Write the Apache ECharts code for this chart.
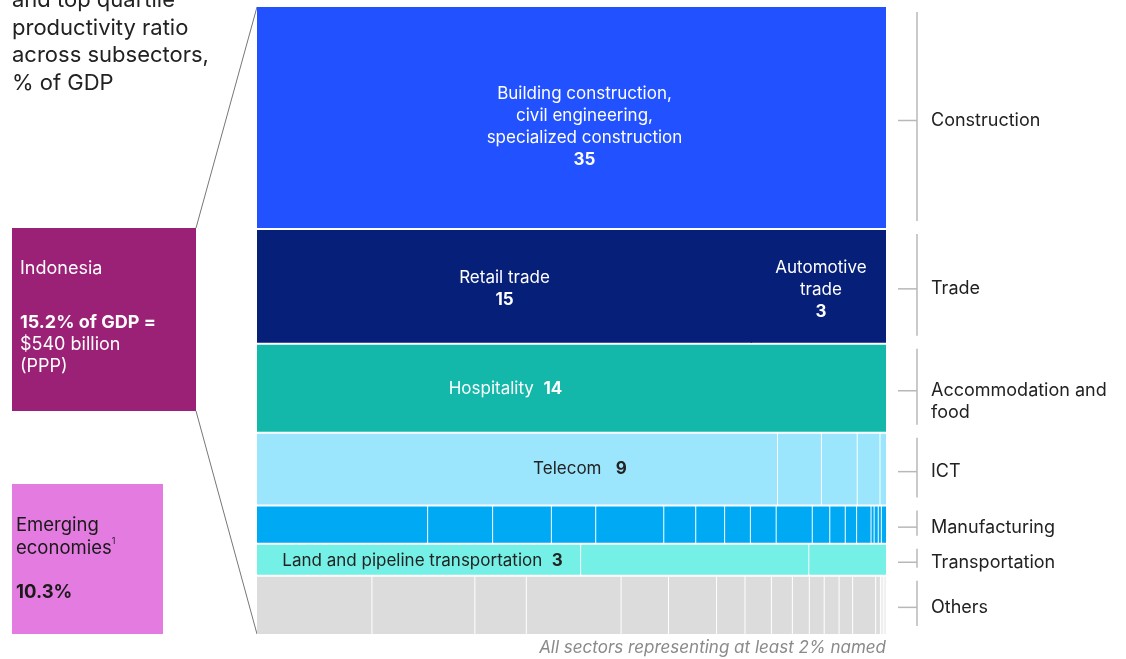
<!DOCTYPE html>
<html><head><meta charset="utf-8">
<script src="https://cdn.jsdelivr.net/npm/echarts@6/dist/echarts.min.js"></script>
<style>html,body{margin:0;padding:0;background:#fff}#c{width:1126px;height:659px}</style>
</head><body><div id="c"></div>
<script>
// ---- DATA (share of GDP, %, per subsector cell, left to right) ----
const sectors = ['Construction', 'Trade', 'Accommodation and\nfood', 'ICT', 'Manufacturing', 'Transportation', 'Others'];
const construction = [35.4];
const trade = [14.4, 3.9];
const accommodation = [14.2];
const ict = [9.59, 0.81, 0.66, 0.42, 0.12];
const manufacturing = [1.65, 0.63, 0.57, 0.43, 0.66, 0.31, 0.28, 0.25, 0.25, 0.35, 0.17, 0.15, 0.11, 0.14, 0.03, 0.04, 0.03, 0.05];
const transportation = [2.62, 1.85, 0.63];
const others = [1.69, 1.52, 0.76, 1.40, 0.70, 0.71, 0.42, 0.39, 0.31, 0.25, 0.22, 0.22, 0.20, 0.34, 0.07, 0.05, 0.04];
const sectorCells = [construction, trade, accommodation, ict, manufacturing, transportation, others];
// named subsectors (sector index, cell index, name, shown value)
const namedSectorIdx = [0, 1, 1, 2, 3, 5];
const namedCellIdx = [0, 0, 1, 0, 0, 0];
const namedNames = ['Building construction,\ncivil engineering,\nspecialized construction', 'Retail trade', 'Automotive\ntrade', 'Hospitality', 'Telecom', 'Land and pipeline transportation'];
const namedValues = [35, 15, 3, 14, 9, 3];
const indonesiaLines = ['Indonesia', '15.2% of GDP =', '$540 billion', '(PPP)'];
const emergingLines = ['Emerging', 'economies', '10.3%'];
const titleLines = ['and top quartile', 'productivity ratio', 'across subsectors,', '% of GDP'];
const footnote = 'All sectors representing at least 2% named';

// ---- STYLE ----
const FONT = 'Inter, "Liberation Sans", sans-serif';
const sectorColors = ['#2251FF', '#061F79', '#14B8AB', '#9BE6FD', '#00A9F4', '#74F0E6', '#DCDCDC'];
const sectorDividers = [true, false, true, true, true, true, true];
const namedStyle = [
  {color: '#fff', inline: false, dx: 13, dy: 9},
  {color: '#fff', inline: false, dx: 0, dy: 3},
  {color: '#fff', inline: false, dx: 2, dy: 4},
  {color: '#fff', inline: true, gap: '  ', dx: -66, dy: 1},
  {color: '#222', inline: true, gap: '   ', dx: 63, dy: 0},
  {color: '#222', inline: true, gap: '  ', dx: 4, dy: 1}
];

// build cells
const total = sectorCells.reduce((a, r) => a + r.reduce((p, q) => p + q, 0), 0);
const cellData = [];
const rowData = [];
let yCum = 0;
sectorCells.forEach((cells, s) => {
  const rowSum = cells.reduce((p, q) => p + q, 0);
  let xCum = 0;
  cells.forEach((v, i) => {
    cellData.push([xCum / rowSum, (xCum + v) / rowSum, yCum, yCum + rowSum, s, i]);
    xCum += v;
  });
  rowData.push([yCum, yCum + rowSum, s]);
  yCum += rowSum;
});
const nSect = sectorCells.length;

function cellColor(s, i) {
  if (s === 6 && i >= sectorCells[6].length - 2) return '#EFEFEF';
  return sectorColors[s];
}

function renderCell(params, api) {
  const x0 = api.value(0), x1 = api.value(1), y0 = api.value(2), y1 = api.value(3);
  const s = api.value(4), i = api.value(5);
  const p0 = api.coord([x0, y0]), p1 = api.coord([x1, y1]);
  let left = p0[0];
  if (x0 > 0) left += sectorDividers[s] ? 1 : -1;
  const top = p0[1] + (s > 0 ? 1 : 0);
  const bottom = p1[1] - (s < nSect - 1 ? 1 : 0);
  const children = [{
    type: 'rect',
    shape: {x: left, y: top, width: Math.max(0, p1[0] - left), height: bottom - top},
    style: {fill: cellColor(s, i)}
  }];
  for (let k = 0; k < namedNames.length; k++) {
    if (namedSectorIdx[k] === s && namedCellIdx[k] === i) {
      const st = namedStyle[k];
      let txt;
      if (st.inline) {
        txt = '{n|' + namedNames[k] + '}{n|' + st.gap + '}{b|' + namedValues[k] + '}';
      } else {
        txt = namedNames[k].split('\n').map(l => '{n|' + l + '}').join('\n') + '\n{b|' + namedValues[k] + '}';
      }
      children.push({
        type: 'text',
        x: (p0[0] + p1[0]) / 2 + st.dx,
        y: (top + bottom) / 2 + st.dy,
        style: {
          text: txt,
          align: 'center',
          verticalAlign: 'middle',
          fill: st.color,
          font: '17px ' + FONT,
          rich: {
            n: {fontSize: 17, fontFamily: 'Inter', fontWeight: 400, fill: st.color, lineHeight: 22, align: 'center'},
            b: {fontSize: 17, fontFamily: 'Inter', fontWeight: 700, fill: st.color, lineHeight: 22, align: 'center'}
          }
        }
      });
    }
  }
  return {type: 'group', children};
}

function renderRow(params, api) {
  const y0 = api.value(0), y1 = api.value(1), s = api.value(2);
  const pt = api.coord([1, y0]), pb = api.coord([1, y1]);
  const xr = pt[0];
  const vx = xr + 31;
  const mid = (pt[1] + pb[1]) / 2 + 2.5;
  return {type: 'group', children: [
    {type: 'line', shape: {x1: vx, y1: pt[1] + 5, x2: vx, y2: pb[1] - 8}, style: {stroke: '#B8B8B8', lineWidth: 1.5}},
    {type: 'line', shape: {x1: xr + 12, y1: mid, x2: vx, y2: mid}, style: {stroke: '#B8B8B8', lineWidth: 1.5}},
    {type: 'text', x: xr + 45, y: mid - 11, style: {text: sectors[s], fill: '#222', font: '18px ' + FONT, lineHeight: 22, verticalAlign: 'top', align: 'left'}}
  ]};
}

const chart = echarts.init(document.getElementById('c'), null, {renderer: 'canvas'});
const option = {
  animation: false,
  backgroundColor: '#fff',
  grid: {left: 257, right: 240, top: 7, bottom: 25},
  xAxis: {type: 'value', min: 0, max: 1, show: false},
  yAxis: {type: 'value', min: 0, max: total, inverse: true, show: false},
  series: [
    {type: 'custom', renderItem: renderCell, data: cellData, clip: false, silent: true},
    {type: 'custom', renderItem: renderRow, data: rowData, clip: false, silent: true}
  ]
};
chart.setOption(option);

const tl = chart.convertToPixel({gridIndex: 0}, [0, 0]);
const bl = chart.convertToPixel({gridIndex: 0}, [0, total]);
const br = chart.convertToPixel({gridIndex: 0}, [1, total]);
const indo = {x: 12, y: 228, w: 184, h: 183};
const emer = {x: 12, y: 484, w: 151, h: 150};
chart.setOption({
  graphic: [
    {type: 'text', x: 12, y: -13, style: {text: titleLines.join('\n'), fill: '#222', font: '22px ' + FONT, lineHeight: 27.5}},
    {type: 'line', shape: {x1: indo.x + indo.w, y1: indo.y, x2: tl[0], y2: tl[1]}, style: {stroke: '#777', lineWidth: 1}},
    {type: 'line', shape: {x1: indo.x + indo.w, y1: indo.y + indo.h, x2: bl[0], y2: bl[1]}, style: {stroke: '#777', lineWidth: 1}},
    {type: 'rect', shape: {x: indo.x, y: indo.y, width: indo.w, height: indo.h}, style: {fill: '#9B2177'}},
    {type: 'text', x: 20, y: 258, style: {
      text: '{n|' + indonesiaLines[0] + '}\n{s|}\n{b|' + indonesiaLines[1] + '}\n{n|' + indonesiaLines[2] + '}\n{n|' + indonesiaLines[3] + '}',
      fill: '#fff',
      rich: {
        n: {fontSize: 18, fontFamily: 'Inter', fill: '#fff', lineHeight: 22},
        s: {fontSize: 18, lineHeight: 32},
        b: {fontSize: 18, fontFamily: 'Inter', fontWeight: 700, fill: '#fff', lineHeight: 22}
      }}},
    {type: 'rect', shape: {x: emer.x, y: emer.y, width: emer.w, height: emer.h}, style: {fill: '#E47BE0'}},
    {type: 'text', x: 16, y: 514, style: {
      text: '{n|' + emergingLines[0] + '}\n{n|' + emergingLines[1] + '}{sup|1}\n{s|}\n{b|' + emergingLines[2] + '}',
      fill: '#1a1a1a',
      rich: {
        n: {fontSize: 18.5, fontFamily: 'Inter', fill: '#1a1a1a', lineHeight: 23},
        sup: {fontSize: 9, fontFamily: 'Inter', fill: '#1a1a1a', lineHeight: 23, verticalAlign: 'top', padding: [0, 0, 8, 0]},
        s: {fontSize: 18, lineHeight: 21},
        b: {fontSize: 18.5, fontFamily: 'Inter', fontWeight: 700, fill: '#1a1a1a', lineHeight: 23}
      }}},
    {type: 'text', x: br[0], y: 648, style: {text: footnote, fill: '#8A8A8A', font: 'italic 17px ' + FONT, align: 'right', verticalAlign: 'middle'}}
  ]
});
</script></body></html>
